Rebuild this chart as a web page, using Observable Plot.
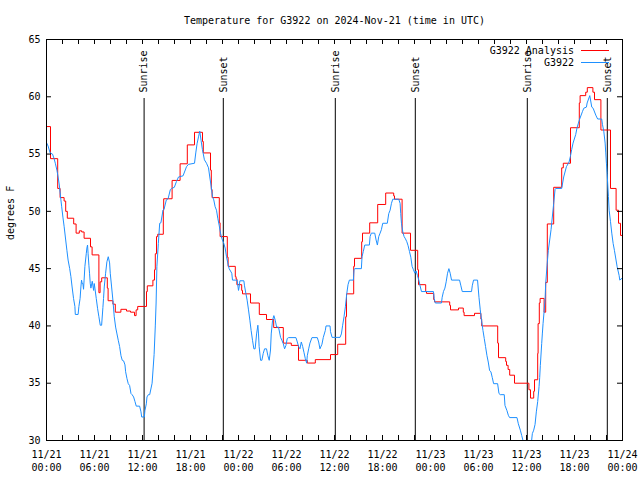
<!DOCTYPE html>
<html>
<head>
<meta charset="utf-8">
<script src="https://cdn.jsdelivr.net/npm/d3@7"></script>
<script src="https://cdn.jsdelivr.net/npm/@observablehq/plot@0.6"></script>
<style>
  html, body { margin: 0; padding: 0; background: #fff; }
</style>
</head>
<body>
<div id="chart"></div>
<script>
// ---- data (hours after 2024-11-21 00:00 UTC) ----
const chartTitle = "Temperature for G3922 on 2024-Nov-21 (time in UTC)";
const yAxisLabel = "degrees F";
const seriesNames = ["G3922 Analysis", "G3922"];
const seriesColors = ["#ff0000", "#1e90ff"];

const analysisHours = [
  0,0.5,1.4,1.7,2.2,2.4,2.6,3.4,3.7,4.1,
  4.4,4.7,5.5,5.7,6.55,6.7,6.9,7.6,7.7,8.3,
  8.6,9.3,10.0,10.5,11.0,11.2,11.4,12.5,12.6,13.3,
  13.5,13.6,13.75,13.9,14.6,14.65,15.7,16.7,17.6,18.5,
  19.5,19.6,20.5,20.6,20.7,21.6,21.7,22.6,22.7,23.6,
  23.7,23.8,24.4,24.5,25.5,26.6,27.5,28.4,29.6,30.6,
  31.5,32.6,33.6,35.5,36.4,37.4,37.5,38.4,38.5,39.4,
  39.5,40.4,41.4,42.4,43.4,43.5,44.45,45.5,46.4,46.5,
  47.4,47.5,48.4,48.5,50.4,50.5,51.5,52.1,52.2,53.5,
  54.3,54.4,56.4,56.5,57.4,57.5,57.7,57.9,58.5,60.3,
  60.5,60.9,61.0,61.4,61.45,61.6,61.7,62.2,62.4,62.6,
  63.4,64.4,64.6,65.5,66.6,66.7,67.4,67.6,68.3,68.5,
  69.3,70.5,71.2,71.5,71.75,72
];
const analysisTemps = [
  57.4,54.6,52.0,51.2,50.9,50.0,49.4,48.9,48.1,48.3,
  48.2,47.65,46.9,46.2,42.9,43.85,44.2,43.3,42.2,41.9,
  41.2,41.45,41.3,41.2,40.9,41.4,41.7,43.0,43.5,44.0,
  44.9,46.3,47.8,48.0,50.1,51.1,52.7,54.15,55.8,56.9,
  56.1,55.1,53.6,51.9,51.2,49.0,47.8,46.0,45.2,44.3,
  44.1,43.6,43.1,42.8,42.0,41.0,40.56,39.86,38.5,38.3,
  37.0,36.76,37.06,37.5,38.4,40.8,42.8,45.2,45.9,47.35,
  48.1,49.0,50.6,51.6,51.35,51.06,48.1,46.6,44.9,43.6,
  43.0,42.84,42.3,42.1,41.8,41.4,41.56,41.2,40.9,41.1,
  40.6,40.0,38.5,37.23,36.9,36.56,36.2,35.7,35.0,34.43,
  33.7,34.3,35.3,37.6,40.2,42.0,42.4,41.2,43.8,48.9,
  52.1,53.8,54.2,57.3,59.46,60.1,60.4,60.8,60.4,59.75,
  57.1,52.0,50.1,48.96,47.9,47.9
];

const stationHours = [
  0,0.2,0.45,0.75,0.95,1.1,1.3,1.45,1.6,1.8,
  1.9,2.05,2.2,2.4,2.55,2.7,2.9,3.05,3.2,3.38,
  3.55,3.6,3.95,4.05,4.2,4.3,4.38,4.46,4.55,4.63,
  4.7,4.8,4.97,5.05,5.13,5.2,5.3,5.38,5.47,5.55,
  5.72,5.89,5.97,6.05,6.22,6.39,6.55,6.72,6.89,7.05,
  7.13,7.22,7.39,7.55,7.72,7.89,7.97,8.14,8.3,8.47,
  8.64,8.81,8.97,9.14,9.31,9.47,9.64,9.81,9.89,10.06,
  10.22,10.39,10.56,10.7,10.89,11.06,11.22,11.64,11.81,11.9,
  12.23,12.3,12.48,12.56,12.73,12.9,13.2,13.45,13.6,13.7,
  13.8,13.98,14.15,14.3,14.56,14.7,14.98,15.2,15.48,15.65,
  15.98,16.24,16.5,17.07,17.5,17.74,18.5,18.66,18.82,19.0,
  19.16,19.32,19.49,19.74,20.0,20.25,20.41,20.58,20.75,20.91,
  21.08,21.25,21.41,21.58,21.75,21.91,22.16,22.33,22.5,22.66,
  22.83,23.16,23.25,23.83,24.0,24.08,24.17,24.67,24.75,24.92,
  25.08,25.25,25.42,25.58,25.75,25.92,26.08,26.26,26.42,26.5,
  26.58,26.76,26.92,27.09,27.26,27.5,27.67,27.84,28.0,28.09,
  28.26,28.42,28.59,28.76,29.0,29.26,29.42,29.59,29.76,29.93,
  30.09,30.26,31.18,31.35,31.51,31.68,31.85,32.02,32.18,32.35,
  32.52,32.6,32.77,32.93,33.18,33.85,34.02,34.18,34.43,34.6,
  34.85,34.94,35.44,35.5,35.7,36.69,36.86,37.02,37.19,37.36,
  37.53,37.69,37.86,38.36,38.44,38.53,39.36,39.44,39.6,39.78,
  40.36,40.45,40.6,41.03,41.2,41.36,41.53,41.7,41.86,42.03,
  42.6,42.78,42.95,43.12,43.28,44.03,44.2,44.28,44.37,44.54,
  44.7,44.87,45.04,45.2,45.37,45.54,45.7,45.87,46.04,46.2,
  46.37,46.54,46.7,46.87,48.37,48.46,48.6,49.37,49.46,49.62,
  49.8,49.96,50.13,50.3,50.46,50.63,51.63,51.8,51.97,53.13,
  53.22,53.38,53.88,54.06,54.22,54.38,54.56,54.72,54.88,55.06,
  55.22,55.39,55.55,55.72,55.89,56.39,56.56,56.72,57.22,57.31,
  57.56,57.73,57.89,58.81,58.98,59.23,59.4,59.56,59.9,60.3,
  60.64,60.73,60.9,61.07,61.23,61.4,61.57,61.65,61.73,61.9,
  61.98,62.07,62.32,62.4,62.57,62.73,63.07,63.4,63.57,63.65,
  64.4,64.65,64.99,65.32,65.49,65.65,65.82,66.15,66.32,66.49,
  66.65,66.99,67.16,67.49,67.58,67.91,68.16,68.33,68.66,68.83,
  68.9,69.4,69.5,69.66,69.83,69.91,69.99,70.08,70.16,70.24,
  70.33,70.5,70.66,70.83,70.99,71.33,71.58,71.66,72
];
const stationTemps = [
  56.0,55.7,55.1,55.0,54.6,54.2,53.6,53.0,52.3,51.0,
  50.4,49.5,48.7,47.5,46.6,45.75,45.0,44.3,43.4,42.4,
  41.7,41.0,41.0,41.7,42.4,43.4,44.0,43.7,43.7,43.2,
  44.0,45.2,46.3,46.8,47.06,46.3,45.3,44.6,43.7,43.3,
  43.9,43.1,43.7,43.3,42.4,41.5,40.8,40.06,40.06,41.6,
  42.4,43.4,44.6,45.6,46.04,45.5,44.6,43.4,42.25,40.8,
  39.9,39.3,38.75,38.2,37.4,37.0,36.95,36.6,36.0,35.4,
  34.96,34.8,34.1,34.0,33.8,33.4,33.0,33.0,32.5,32.05,
  32.05,32.6,33.2,33.8,34.0,34.0,35.0,37.5,40.0,42.0,
  45.2,47.2,48.96,49.0,50.1,50.2,51.0,51.1,51.9,52.0,
  52.1,52.6,53.0,53.1,53.9,54.1,54.2,55.1,55.9,56.5,
  57.0,56.2,55.4,54.5,54.2,53.8,53.0,52.2,51.3,51.0,
  50.4,50.1,49.4,48.8,48.1,47.65,47.2,46.8,46.04,45.5,
  45.0,44.6,44.0,44.0,43.1,43.4,43.94,43.94,43.5,42.84,
  42.25,41.4,40.5,39.6,38.75,38.0,38.0,39.3,40.06,39.3,
  38.2,37.0,37.0,37.6,38.0,38.0,37.4,37.0,37.9,39.3,
  40.5,40.9,40.5,39.9,39.9,39.0,38.75,38.46,38.0,38.3,
  38.9,38.98,38.98,38.6,38.2,38.0,38.6,38.2,37.7,37.15,
  36.75,37.4,38.0,38.5,38.98,38.98,38.6,38.0,38.4,39.0,
  39.6,40.0,40.0,39.5,39.0,39.0,39.3,40.06,40.8,41.67,
  42.8,43.6,44.0,44.0,44.9,45.0,45.0,46.04,46.5,47.06,
  47.06,47.8,48.1,48.1,47.5,47.06,47.8,48.1,48.4,48.96,
  48.96,49.8,50.1,50.7,51.06,51.06,50.7,49.8,48.96,48.2,
  47.8,47.6,47.35,47.0,46.5,46.0,45.2,44.9,44.6,44.8,
  44.4,44.0,43.5,43.0,43.0,42.4,42.0,42.0,42.5,43.0,
  43.3,43.85,44.6,45.0,44.6,44.0,44.0,43.5,43.0,43.0,
  43.5,44.0,44.0,42.5,41.4,40.5,39.6,38.9,38.2,37.4,
  36.85,36.1,36.0,35.5,34.96,34.96,34.1,34.0,34.0,33.06,
  32.6,32.2,32.0,32.0,31.46,30.9,30.44,30.0,29.5,29.5,
  30.0,30.6,30.9,31.4,32.5,33.4,34.7,35.5,36.56,38.46,
  39.3,40.2,42.25,43.7,45.3,46.6,48.4,50.7,51.9,52.0,
  52.0,53.0,53.9,54.3,54.8,55.4,55.96,56.7,57.3,57.7,
  58.06,58.7,59.0,59.1,59.46,60.1,59.1,59.0,58.4,58.15,
  58.06,58.06,57.56,57.0,55.96,55.1,54.2,53.3,52.3,51.3,
  50.1,49.1,48.1,47.2,46.6,45.17,44.4,44.0,44.2
];

const sunHours = [12.2, 22.1, 36.1, 46.1, 60.1, 70.1];
const sunLabels = ["Sunrise", "Sunset", "Sunrise", "Sunset", "Sunrise", "Sunset"];

const yTickValues = [30, 35, 40, 45, 50, 55, 60, 65];
const xLabelStepHours = 6;
const xMinorStepHours = 2;
const startUTC = Date.UTC(2024, 10, 21);
const endUTC = Date.UTC(2024, 10, 24);

// ---- build tables ----
const toDate = h => new Date(startUTC + h * 3600e3);
const analysis = analysisHours.map((h, i) => ({time: toDate(h), temp: analysisTemps[i]}));
const station = stationHours.map((h, i) => ({time: toDate(h), temp: stationTemps[i]}));
const sunEvents = sunHours.map((h, i) => ({time: toDate(h), label: sunLabels[i]}));
const xLabelTicks = d3.range(0, 73, xLabelStepHours).map(toDate);
const xMinorTicks = d3.range(0, 73, xMinorStepHours).map(toDate);
const fmt = d3.utcFormat("%m/%d\n%H:%M");

const W = 640, H = 480;
const mL = 46, mR = 18, mT = 39, mB = 40;
const frameW = W - mL - mR, frameH = H - mT - mB;

function legendMark(index, scales, values, dims) {
  const g = d3.create("svg:g")
    .attr("font-family", "DejaVu Sans Mono")
    .attr("font-size", 10);
  const right = dims.width - dims.marginRight;
  seriesNames.forEach((name, i) => {
    const y = dims.marginTop + 11.5 + i * 12;
    g.append("text")
      .attr("x", right - 48).attr("y", y).attr("dy", "0.32em")
      .attr("text-anchor", "end").attr("fill", "black").text(name);
    g.append("line")
      .attr("x1", right - 41).attr("x2", right - 13)
      .attr("y1", y).attr("y2", y)
      .attr("stroke", seriesColors[i]).attr("stroke-width", 1);
  });
  return g.node();
}

const chart = Plot.plot({
  width: W,
  height: H,
  marginLeft: mL,
  marginRight: mR,
  marginTop: mT,
  marginBottom: mB,
  style: {fontFamily: "DejaVu Sans Mono", fontSize: "10px", background: "white", color: "black"},
  x: {type: "utc", domain: [new Date(startUTC), new Date(endUTC)]},
  y: {domain: [30, 65]},
  marks: [
    Plot.ruleX(sunEvents, {x: "time", stroke: "black", strokeWidth: 1, insetTop: 59}),
    Plot.text(sunEvents, {x: "time", text: "label", frameAnchor: "top", dy: 53, rotate: -90,
      textAnchor: "start", lineAnchor: "middle", fill: "black", fontFamily: "DejaVu Sans Mono", fontSize: 10}),
    Plot.line(analysis, {x: "time", y: "temp", stroke: seriesColors[0], strokeWidth: 1, curve: "step-after", clip: true}),
    Plot.line(station, {x: "time", y: "temp", stroke: seriesColors[1], strokeWidth: 1, clip: true}),
    Plot.tickX(xMinorTicks, {x: d => d, stroke: "black", insetTop: frameH - 5}),
    Plot.tickX(xMinorTicks, {x: d => d, stroke: "black", insetBottom: frameH - 5}),
    Plot.tickY(yTickValues, {y: d => d, stroke: "black", insetRight: frameW - 5}),
    Plot.tickY(yTickValues, {y: d => d, stroke: "black", insetLeft: frameW - 5}),
    Plot.axisX({ticks: xLabelTicks, tickFormat: fmt, tickSize: 0, tickPadding: 8, label: null, lineHeight: 1.3, fontSize: 10}),
    Plot.axisY({ticks: yTickValues, tickSize: 0, tickPadding: 6, label: null, fontSize: 10}),
    Plot.frame({stroke: "black", strokeWidth: 1}),
    Plot.text([chartTitle], {text: d => d, frameAnchor: "top", dy: -23, fill: "black", fontSize: 10}),
    Plot.text([yAxisLabel], {text: d => d, frameAnchor: "left", dx: -36, rotate: -90, fill: "black", fontSize: 10}),
    legendMark
  ]
});
document.getElementById("chart").appendChild(chart);
</script>
</body>
</html>
